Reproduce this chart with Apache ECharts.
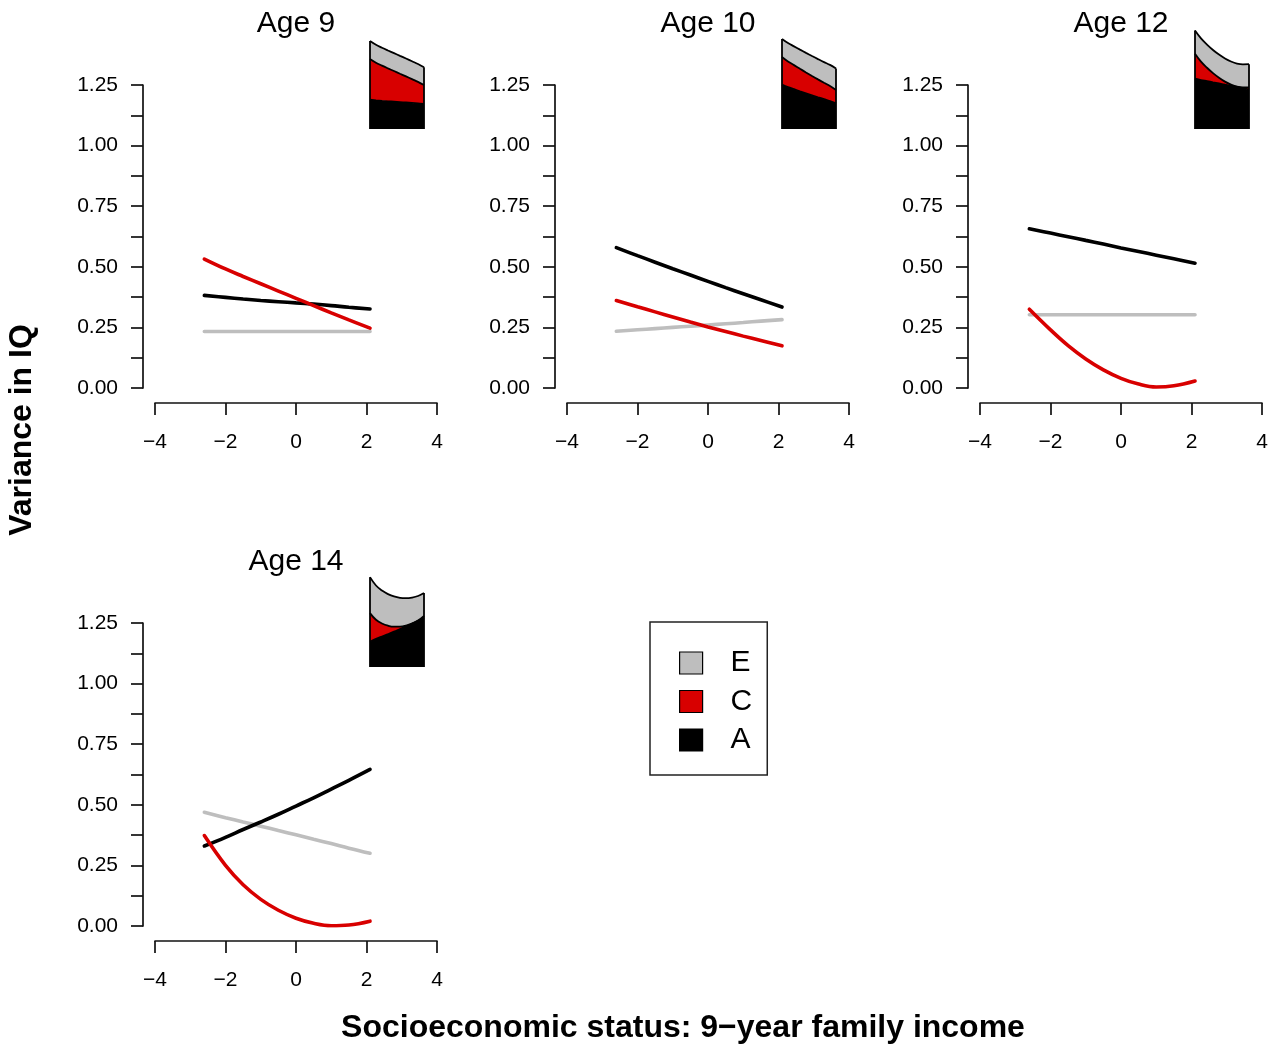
<!DOCTYPE html>
<html>
<head>
<meta charset="utf-8">
<script src="https://cdn.jsdelivr.net/npm/echarts@6/dist/echarts.min.js"></script>
<style>
html,body{margin:0;padding:0;background:#fff;}
#chart{width:1271px;height:1048px;}
</style>
</head>
<body>
<div id="chart"></div>
<script>
// ---- data ----
const xs = [-2.6, -2, -1.5, -1, -0.5, 0, 0.5, 1, 1.5, 2.1];
const panelTitles = ['Age 9', 'Age 10', 'Age 12', 'Age 14'];
const xTicks = [-4, -2, 0, 2, 4];
const yTickLabels = [0, 0.25, 0.5, 0.75, 1.0, 1.25];

const age9A  = [0.382, 0.374, 0.367, 0.361, 0.356, 0.351, 0.346, 0.340, 0.333, 0.326];
const age9C  = [0.532, 0.491, 0.460, 0.430, 0.400, 0.370, 0.340, 0.310, 0.281, 0.247];
const age9E  = [0.233, 0.233, 0.233, 0.233, 0.233, 0.233, 0.233, 0.233, 0.233, 0.233];

const age10A = [0.579, 0.546, 0.519, 0.492, 0.466, 0.440, 0.414, 0.389, 0.364, 0.334];
const age10C = [0.361, 0.335, 0.314, 0.293, 0.272, 0.252, 0.233, 0.214, 0.196, 0.174];
const age10E = [0.234, 0.240, 0.245, 0.250, 0.255, 0.260, 0.265, 0.270, 0.276, 0.282];

const age12A = [0.657, 0.639, 0.624, 0.609, 0.594, 0.578, 0.563, 0.548, 0.533, 0.515];
const age12C = [0.325, 0.240, 0.175, 0.120, 0.075, 0.040, 0.016, 0.004, 0.009, 0.029];
const age12E = [0.302, 0.302, 0.302, 0.302, 0.302, 0.302, 0.302, 0.302, 0.302, 0.302];

const age14A = [0.330, 0.366, 0.398, 0.429, 0.461, 0.495, 0.529, 0.565, 0.601, 0.646];
const age14C = [0.373, 0.250, 0.170, 0.110, 0.065, 0.032, 0.011, 0.001, 0.004, 0.020];
const age14E = [0.469, 0.447, 0.429, 0.412, 0.394, 0.376, 0.358, 0.340, 0.321, 0.300];

const legendNames = ['E', 'C', 'A'];
const xAxisTitle = 'Socioeconomic status: 9\u2212year family income';
const yAxisTitle = 'Variance in IQ';

// ---- layout / style ----
const COL_A = '#000000', COL_C = '#d80000', COL_E = '#bebebe';
const FONT = "'Liberation Sans', Arial, Helvetica, sans-serif";
const panels = [
  {A: age9A,  C: age9C,  E: age9E,  left: 155, top: 85},
  {A: age10A, C: age10C, E: age10E, left: 567, top: 85},
  {A: age12A, C: age12C, E: age12E, left: 980, top: 85},
  {A: age14A, C: age14C, E: age14E, left: 155, top: 623}
];
const PW = 282, PH = 303;
const n = xs.length - 1;

const grid = [], xAxis = [], yAxis = [], series = [], title = [];
const pair = arr => arr.map((v, i) => [xs[i], v]);

panels.forEach((p, i) => {
  // main panel
  grid.push({left: p.left, top: p.top, width: PW, height: PH});
  xAxis.push({
    type: 'value', gridIndex: 2 * i, min: xTicks[0], max: xTicks[xTicks.length - 1], interval: 2,
    offset: 15, splitLine: {show: false},
    axisLine: {show: true, onZero: false, lineStyle: {color: '#111', width: 1.7}},
    axisTick: {show: true, length: 12, lineStyle: {color: '#111', width: 1.7}},
    axisLabel: {margin: 29, fontSize: 21, color: '#000', fontFamily: FONT, showMinLabel: true, showMaxLabel: true,
      formatter: v => String(v).replace('-', '\u2212')}
  });
  yAxis.push({
    type: 'value', gridIndex: 2 * i, min: 0, max: 1.25, interval: 0.125,
    offset: 12, splitLine: {show: false},
    axisLine: {show: true, onZero: false, lineStyle: {color: '#111', width: 1.7}},
    axisTick: {show: true, length: 12, lineStyle: {color: '#111', width: 1.7}},
    axisLabel: {margin: 25, fontSize: 21, color: '#000', fontFamily: FONT, showMinLabel: true, showMaxLabel: true,
      formatter: v => yTickLabels.some(t => Math.abs(t - v) < 1e-6) ? v.toFixed(2) : ''}
  });
  title.push({
    text: panelTitles[i], left: p.left + PW / 2, top: p.top - 76, textAlign: 'center', padding: 0,
    textStyle: {fontSize: 30, fontWeight: 'normal', color: '#000', fontFamily: FONT}
  });
  const lineBase = {type: 'line', xAxisIndex: 2 * i, yAxisIndex: 2 * i, showSymbol: false, symbol: 'none',
    smooth: 0.4, silent: true};
  series.push(Object.assign({}, lineBase, {name: 'E', data: pair(p.E), lineStyle: {color: COL_E, width: 3.6, cap: 'round'}, itemStyle: {color: COL_E}}));
  series.push(Object.assign({}, lineBase, {name: 'A', data: pair(p.A), lineStyle: {color: COL_A, width: 3.6, cap: 'round'}, itemStyle: {color: COL_A}}));
  series.push(Object.assign({}, lineBase, {name: 'C', data: pair(p.C), lineStyle: {color: COL_C, width: 3.6, cap: 'round'}, itemStyle: {color: COL_C}}));

  // inset stacked area (A bottom, C middle, E top) on a category axis of the same xs
  const insetBottom = p.top + 44;
  const insetH = 115;
  grid.push({left: p.left + 215, top: insetBottom - insetH, width: 54, height: insetH});
  xAxis.push({type: 'category', gridIndex: 2 * i + 1, data: xs.map(String), boundaryGap: false, show: false});
  yAxis.push({type: 'value', gridIndex: 2 * i + 1, min: 0, max: 1.5, show: false});
  const insetBase = {type: 'line', xAxisIndex: 2 * i + 1, yAxisIndex: 2 * i + 1, stack: 'inset' + i,
    showSymbol: false, symbol: 'none', smooth: 0.4, silent: true, lineStyle: {color: '#000', width: 1.8}};
  series.push(Object.assign({}, insetBase, {name: 'A', data: p.A.slice(), areaStyle: {color: COL_A, opacity: 1}, itemStyle: {color: COL_A}}));
  series.push(Object.assign({}, insetBase, {name: 'C', data: p.C.slice(), areaStyle: {color: COL_C, opacity: 1}, itemStyle: {color: COL_C}}));
  series.push(Object.assign({}, insetBase, {name: 'E', data: p.E.slice(), areaStyle: {color: COL_E, opacity: 1}, itemStyle: {color: COL_E}}));
  const tot0 = p.A[0] + p.C[0] + p.E[0];
  const totN = p.A[n] + p.C[n] + p.E[n];
  series.push({type: 'line', xAxisIndex: 2 * i + 1, yAxisIndex: 2 * i + 1, symbol: 'none', silent: true,
    data: [[0, 0], [0, tot0]], lineStyle: {color: '#000', width: 1.8}});
  series.push({type: 'line', xAxisIndex: 2 * i + 1, yAxisIndex: 2 * i + 1, symbol: 'none', silent: true,
    data: [[n, 0], [n, totN]], lineStyle: {color: '#000', width: 1.8}});
});

const legendColors = {E: COL_E, C: COL_C, A: COL_A};

const option = {
  backgroundColor: '#fff',
  animation: false,
  title: title,
  grid: grid,
  xAxis: xAxis,
  yAxis: yAxis,
  series: series,
  legend: {
    left: 650, top: 622, orient: 'vertical', selectedMode: false,
    icon: 'rect', itemWidth: 23, itemHeight: 22, itemGap: 8.5,
    padding: [26, 15, 20, 29],
    borderColor: '#222', borderWidth: 1.5,
    data: legendNames.map(nm => ({name: nm, icon: 'rect',
      itemStyle: {color: legendColors[nm], borderColor: '#000', borderWidth: 1.2}})),
    textStyle: {fontSize: 30, color: '#000', fontFamily: FONT, padding: [0, 0, 0, 23]}
  },
  graphic: [
    {type: 'text', x: 22, y: 430, rotation: Math.PI / 2,
      style: {text: yAxisTitle, font: "bold 32px 'Liberation Sans', Arial, sans-serif", fill: '#000',
        textAlign: 'center', textVerticalAlign: 'middle'}},
    {type: 'text', x: 683, y: 1028,
      style: {text: xAxisTitle, font: "bold 32px 'Liberation Sans', Arial, sans-serif", fill: '#000',
        textAlign: 'center', textVerticalAlign: 'middle'}}
  ]
};

const chart = echarts.init(document.getElementById('chart'), null, {renderer: 'canvas'});
chart.setOption(option);
</script>
</body>
</html>
